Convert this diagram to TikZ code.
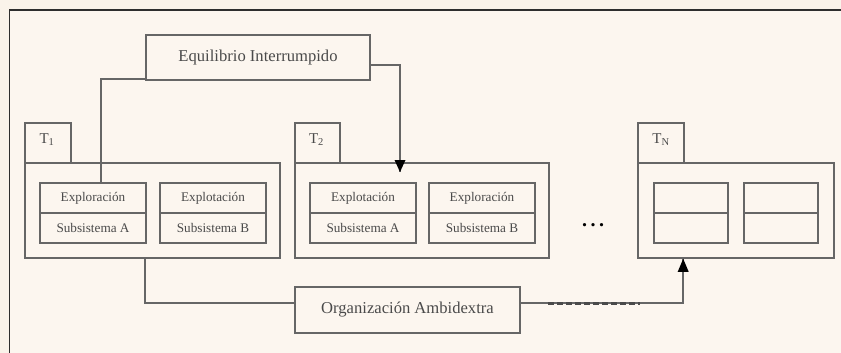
\documentclass[tikz,border=0pt]{standalone}
\usepackage{fontspec}
\setmainfont{Liberation Serif}
\usetikzlibrary{arrows.meta,calc}
\definecolor{bgout}{HTML}{FAF3EA}
\definecolor{bgin}{HTML}{FCF6EF}
\definecolor{boxline}{HTML}{666666}
\definecolor{frameline}{HTML}{2E2E2E}
\definecolor{txt}{HTML}{4A4A4A}
\tikzset{
  boxstyle/.style={draw=boxline,line width=1.6pt,inner sep=0pt,rectangle,text=txt},
  bigtext/.style={font=\fontsize{16.6}{19}\selectfont},
  smalltext/.style={font=\fontsize{13.2}{15}\selectfont},
  tabtext/.style={font=\fontsize{15}{17}\selectfont,text=txt},
  conn/.style={draw=boxline,line width=1.6pt},
}
\begin{document}
\begin{tikzpicture}[x=1pt,y=-1pt]
\useasboundingbox (0,0) rectangle (841,353);
\fill[bgout] (0,0) rectangle (841,353);
\fill[bgin] (9.5,10) rectangle (841,353);
\draw[frameline,line width=1.6pt] (841,10) -- (9.5,10) -- (9.5,353);

% top box
\node[boxstyle,bigtext,minimum width=224pt,minimum height=45pt] (eq) at (258,57.5) {Equilibrio Interrumpido};

% T1
\node[boxstyle,minimum width=46pt,minimum height=40pt] (t1tab) at (48,143) {};
\node[tabtext] (t1lab) at (47,140) {T\textsubscript{1}};
\node[boxstyle,minimum width=255pt,minimum height=95pt] (t1) at (152.5,210.5) {};
\node[boxstyle,smalltext,minimum width=106pt,minimum height=30pt] (t1ax) at (93,198) {Exploración};
\node[boxstyle,smalltext,minimum width=106pt,minimum height=30pt] (t1as) at (93,228) {Subsistema A};
\node[boxstyle,smalltext,minimum width=106pt,minimum height=30pt] (t1bx) at (213,198) {Explotación};
\node[boxstyle,smalltext,minimum width=106pt,minimum height=30pt] (t1bs) at (213,228) {Subsistema B};

% T2
\node[boxstyle,minimum width=45pt,minimum height=40pt] (t2tab) at (317.5,143) {};
\node[tabtext] (t2lab) at (316.5,140) {T\textsubscript{2}};
\node[boxstyle,minimum width=254pt,minimum height=95pt] (t2) at (422,210.5) {};
\node[boxstyle,smalltext,minimum width=106pt,minimum height=30pt] (t2ax) at (363,198) {Explotación};
\node[boxstyle,smalltext,minimum width=106pt,minimum height=30pt] (t2as) at (363,228) {Subsistema A};
\node[boxstyle,smalltext,minimum width=106pt,minimum height=30pt] (t2bx) at (482,198) {Exploración};
\node[boxstyle,smalltext,minimum width=106pt,minimum height=30pt] (t2bs) at (482,228) {Subsistema B};

% dots
\node[font=\fontsize{20}{22}\selectfont\bfseries,text=black,inner sep=0pt] (dots) at (593,225.5) {.\hspace{3.5pt}.\hspace{3.5pt}.};

% TN
\node[boxstyle,minimum width=46pt,minimum height=40pt] (tntab) at (661,143) {};
\node[tabtext] (tnlab) at (661,140) {T\textsubscript{N}};
\node[boxstyle,minimum width=196pt,minimum height=95pt] (tn) at (736,210.5) {};
\node[boxstyle,minimum width=74pt,minimum height=30pt] (tnax) at (691,198) {};
\node[boxstyle,minimum width=74pt,minimum height=30pt] (tnas) at (691,228) {};
\node[boxstyle,minimum width=74pt,minimum height=30pt] (tnbx) at (781,198) {};
\node[boxstyle,minimum width=74pt,minimum height=30pt] (tnbs) at (781,228) {};

% bottom box
\node[boxstyle,bigtext,minimum width=225pt,minimum height=46pt] (org) at (407.5,310) {Organización Ambidextra};

% connectors
\draw[conn] ($(eq.south west)+(0,-2)$) -| ($(t1ax.north)+(8,0)$);
\coordinate (a2) at (400,172);
\draw[conn] ($(eq.east)+(0,7.5)$) -| (a2);
\fill[black] (a2) -- ++(-5.5,-12) -- ++(11,0) -- cycle;

\draw[conn] ($(t1.south west)+(121,0)$) |- ($(org.west)+(0,-7)$);
\coordinate (an) at ($(tn.south west)+(46,0)$);
\draw[conn] ($(org.east)+(0,-7)$) -| (an);
\fill[black] (an) -- ++(-5.5,13) -- ++(11,0) -- cycle;
\coordinate (d1) at (548,303);
\coordinate (d2) at (640,303);
\draw[color=txt,line width=3pt,dash pattern=on 6pt off 3pt] (d1) -- (d2);
\end{tikzpicture}
\end{document}
